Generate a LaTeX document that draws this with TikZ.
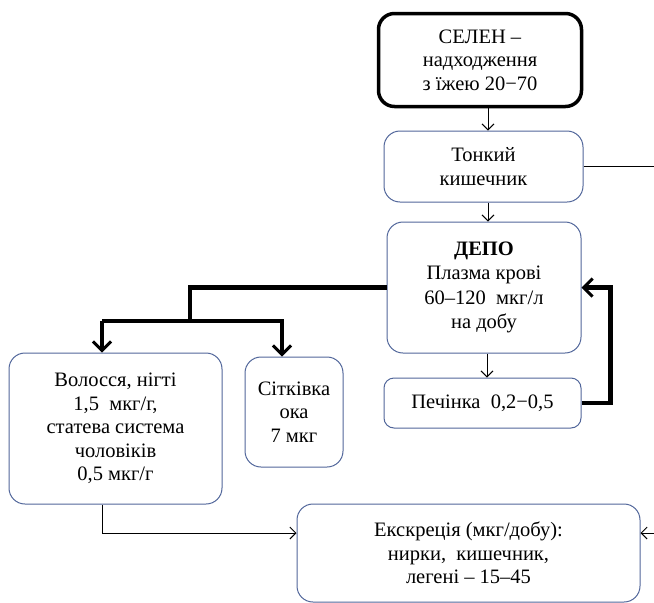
\documentclass[tikz,border=0pt]{standalone}
\usepackage{fontspec}
\setmainfont{Liberation Serif}
\usepackage{xcolor}
\usetikzlibrary{arrows.meta}
\definecolor{boxline}{HTML}{51669A}

\begin{document}
\begin{tikzpicture}[x=1pt,y=-1pt]
        \useasboundingbox (0,0) rectangle (654,603);
        \coordinate (edge) at (654,0);
        \begin{scope}[every node/.style = {draw=boxline, line width=1pt, rounded corners=16pt,
                        align=center, inner sep=0pt, text=black,
                        font=\fontsize{20.5}{23.5}\selectfont}]
            \node[draw=black, line width=3.5pt, minimum width=203pt, minimum height=93pt]
                (selen) at (480,60) {СЕЛЕН –\\надходження\\з їжею 20−70};

            \node[minimum width=199pt, minimum height=71pt] (tonkyi) at (483.5,166.5) {Тонкий\\кишечник};
            \node[minimum width=194pt, minimum height=131pt, font=\fontsize{20.5}{24.5}\selectfont]
                (depo) at (484,287.5) {\textbf{ДЕПО}\\Плазма крові\\60–120\ \ мкг/л\\на добу};
            \node[minimum width=197pt, minimum height=50pt, rounded corners=10pt] (pechinka) at (482.5,403)
                {Печінка\ \ 0,2−0,5};

            \node[minimum width=213pt, minimum height=151pt] (volossia) at (115.5,428.5)
                {Волосся, нігті\\1,5\ \ мкг/г,\\статева система\\чоловіків\\0,5 мкг/г\hspace{12pt}};
            \node[minimum width=98pt, minimum height=110pt] (sitkivka) at (294,412)
                {Сітківка\\ока\\7 мкг};

            \node[minimum width=343pt, minimum height=98pt] (ekskr) at (468.5,553)
                {Екскреція (мкг/добу):\\нирки,\ \ кишечник,\\легені – 15–45};
        \end{scope}

        \begin{scope}[>={Straight Barb[length=6pt,width=12pt]}, line width=0.9pt]
            \draw[->] ([xshift=8pt]selen.south) -- ([xshift=8pt]selen.south |- tonkyi.north);
            \draw[->] ([xshift=4.5pt]tonkyi.south) -- ([xshift=4.5pt]tonkyi.south |- depo.north);
            \draw[->] ([xshift=3pt]depo.south) -- ([xshift=3pt]depo.south |- pechinka.north);
            \draw (tonkyi.east) -- (tonkyi.east -| edge);
            \draw[->] ([xshift=-13.5pt]volossia.south) |- ([yshift=20pt]ekskr.west);
            \draw[<-] ([yshift=20pt]ekskr.east) -- ([yshift=20pt]ekskr.east -| edge);
        \end{scope}

        \begin{scope}[>={Straight Barb[length=9pt,width=18pt,line width=3pt]}, line width=4.5pt]
            \coordinate (fork) at (190,321);
            \draw (depo.west) -| (fork);
            \draw ([xshift=-13.5pt]volossia.north |- fork) -- (fork);
            \draw[->] ([xshift=-13.5pt]volossia.north |- fork) -| ([xshift=-13.5pt]volossia.north);
            \draw[->] (fork) -| ([xshift=-12pt]sitkivka.north);
            \draw[->] (pechinka.east) -- ++(29,0) |- (depo.east);
        \end{scope}
    \end{tikzpicture}
\end{document}
